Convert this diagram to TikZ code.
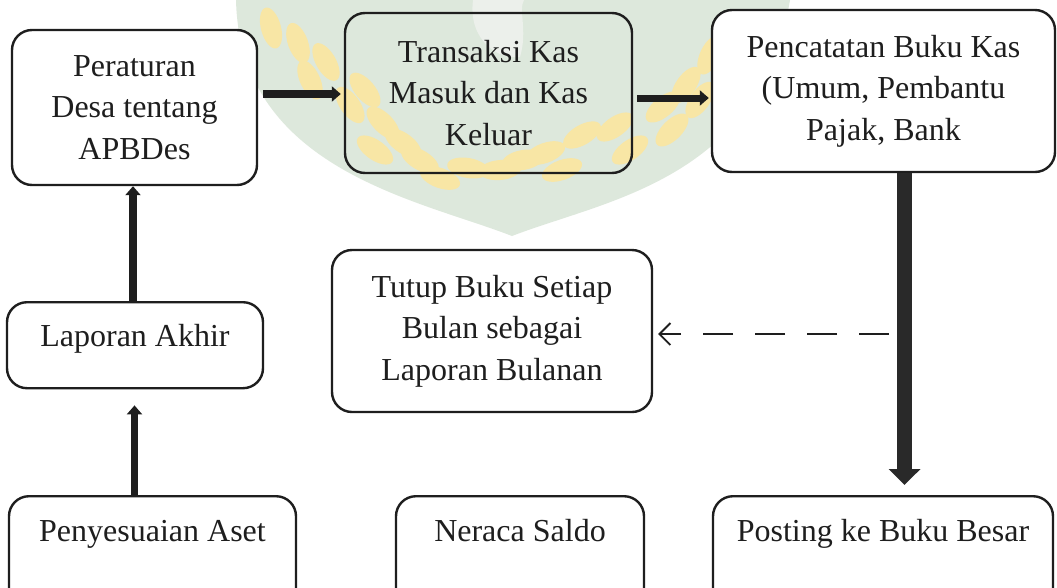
\documentclass[tikz,border=0pt]{standalone}
\usepackage{fontspec}
\setmainfont{Liberation Serif}
\usetikzlibrary{arrows.meta}
\definecolor{ink}{RGB}{30,30,30}
\definecolor{wmgreen}{RGB}{221,232,220}
\definecolor{wmleaf}{RGB}{248,230,165}
\definecolor{wmlight}{RGB}{236,240,235}
\tikzset{
  box/.style={draw=ink, line width=2.4pt, rounded corners=20pt, fill=white,
    align=center, inner sep=0pt, text=ink,
    font=\fontsize{32}{41.5}\selectfont},
  openbox/.style={box, fill=none},
  arr/.style={draw=ink, line width=7.5pt, -{Triangle[width=15pt,length=9pt]}},
  bigarr/.style={draw=ink!95, line width=15pt, -{Triangle[width=31pt,length=16pt]}},
  dasharr/.style={draw=ink, line width=1.8pt, dash pattern=on 30pt off 22pt,
    -{Straight Barb[length=11pt,width=22pt,line width=1.8pt]}},
  leaf/.style={fill=wmleaf}
}
\begin{document}
\begin{tikzpicture}[x=1pt,y=-1pt]
\useasboundingbox (0,0) rectangle (1057,587);
\clip (0,0) rectangle (1057,587);
\fill[white] (0,0) rectangle (1057,587);
% watermark
\fill[wmgreen] (236,0) .. controls (240,170) and (420,200) .. (512,236)
  .. controls (605,200) and (760,180) .. (790,0) -- cycle;
\fill[wmlight] (473,0) .. controls (468,40) and (498,60) .. (520,57)
  .. controls (528,30) and (518,10) .. (524,0) -- cycle;
\foreach \x/\y/\r in {271/28/15, 298/43/20, 310/80/25, 326/62/30, 350/105/35,
  365/90/40, 383/123/45, 375/150/55, 403/143/55, 420/160/60, 440/178/70,
  468/168/80, 500/170/95, 523/160/100, 545/153/110, 562/170/110, 582/135/120,
  615/127/125, 630/150/125, 663/107/130, 672/130/135, 686/85/145, 700/100/145,
  710/55/155, 723/31/165, 735/60/160}
  \fill[leaf, rotate around={\r:(\x,\y)}] (\x,\y) ellipse (10 and 21);
% boxes
\node[box, minimum width=245pt, minimum height=155pt] (peraturan) at (134.5,107.5)
  {Peraturan\\Desa tentang\\APBDes};
\node[openbox, minimum width=287pt, minimum height=160pt] (transaksi) at (488.5,93)
  {Transaksi Kas\\Masuk dan Kas\\Keluar};
\node[box, minimum width=343pt, minimum height=162pt] (pencatatan) at (883.5,91)
  {Pencatatan Buku Kas\\(Umum, Pembantu\\Pajak, Bank};
\node[box, minimum width=320pt, minimum height=162pt] (tutup) at (492,331)
  {Tutup Buku Setiap\\Bulan sebagai\\Laporan Bulanan};
\node[box, anchor=north, minimum width=256pt, text height=44pt, text depth=42pt] (laporan) at (135,301)
  {Laporan Akhir};
\node[box, anchor=north, minimum width=287pt, text height=45pt, text depth=80pt] (penyesuaian) at (152.5,495)
  {Penyesuaian Aset};
\node[box, anchor=north, minimum width=248pt, text height=45pt, text depth=80pt] (neraca) at (520,495)
  {Neraca Saldo};
\node[box, anchor=north, minimum width=340pt, text height=45pt, text depth=80pt] (posting) at (883,495)
  {Posting ke Buku Besar};
% connectors
\coordinate (a1) at ([yshift=13.5pt]peraturan.east);
\draw[arr, shorten <=5pt, shorten >=3pt] (a1) -- (a1 -| transaksi.west);
\coordinate (a2) at ([yshift=-5pt]transaksi.east);
\draw[arr, line width=7pt, shorten <=4pt, shorten >=2pt] (a2) -- (a2 -| pencatatan.west);
\coordinate (a3) at ([xshift=21pt]pencatatan.south);
\draw[bigarr, shorten >=10pt] (a3) -- (a3 |- posting.north);
\coordinate (a4) at ([xshift=-2pt]laporan.north);
\draw[arr, line width=8pt] (a4) -- (a4 |- peraturan.south);
\coordinate (a5) at ([xshift=-18pt]penyesuaian.north);
\draw[arr, line width=7pt, shorten >=16pt] (a5) -- (a5 |- laporan.south);
\coordinate (dstart) at (889,334);
\draw[dasharr, shorten >=5pt] (dstart) -- (dstart -| tutup.east);
\end{tikzpicture}
\end{document}
